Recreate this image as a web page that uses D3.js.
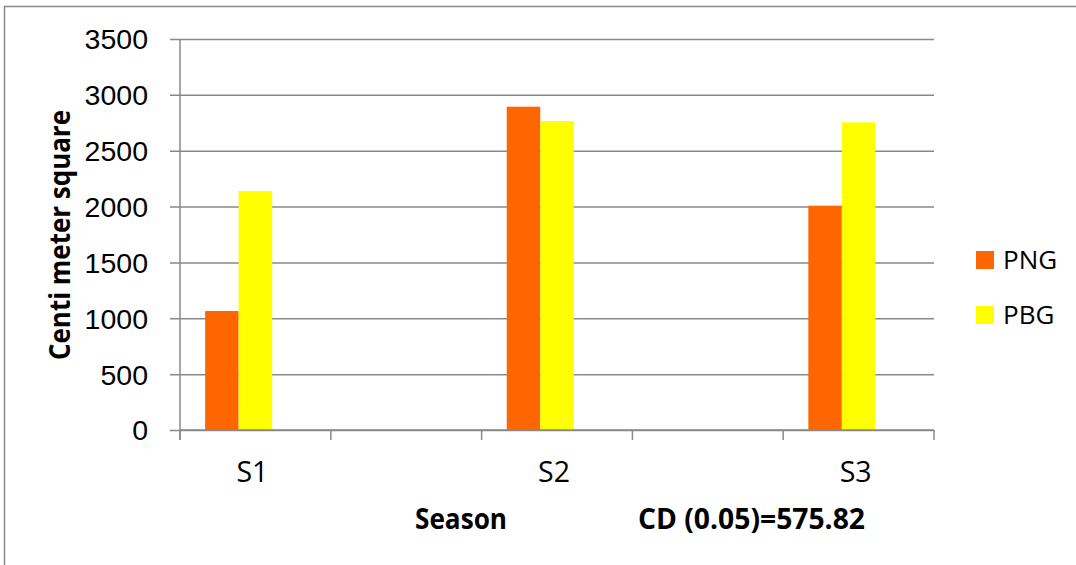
<!DOCTYPE html>
<html>
<head>
<meta charset="utf-8">
<script src="https://cdn.jsdelivr.net/npm/d3@7"></script>
<style>
  html, body { margin: 0; padding: 0; background: #fff; }
  svg { display: block; font-family: "Open Sans", "Noto Sans", sans-serif; }
</style>
</head>
<body>
<svg id="chart" width="1076" height="565"></svg>
<script>
// Category slots along the x axis (blank slots sit between the seasons)
const categories = ["S1", "", "S2", "", "S3"];
const seriesNames = ["PNG", "PBG"];
const pngValues = [1065, null, 2894, null, 2008];
const pbgValues = [2139, null, 2766, null, 2754];
const yTicks = [0, 500, 1000, 1500, 2000, 2500, 3000, 3500];
const colors = ["#FF6600", "#FFFF00"];

const svg = d3.select("#chart");
const W = 1076, H = 565;
const plot = { left: 180, right: 934, top: 39, bottom: 430 };
const grey = "#898989";

// Outer frame (top and left edges)
svg.append("path")
  .attr("d", `M4.5,${H} V6.5 H${W}`)
  .attr("fill", "none").attr("stroke", grey).attr("stroke-width", 1.5);

const x = d3.scaleBand()
  .domain(d3.range(categories.length))
  .range([plot.left, plot.right])
  .paddingInner(0).paddingOuter(0);

// Three bar slots per category; the last one stays empty
const xInner = d3.scaleBand()
  .domain(d3.range(3))
  .range([0, x.bandwidth()])
  .paddingInner(0).paddingOuter(0.75);

const y = d3.scaleLinear().domain([0, 3500]).range([plot.bottom, plot.top]);

// Horizontal gridlines with left tick stubs
const yAxis = d3.axisLeft(y)
  .tickValues(yTicks)
  .tickSize(-(plot.right - plot.left + 10))
  .tickFormat(d3.format("d"))
  .tickPadding(22);

const gy = svg.append("g")
  .attr("transform", `translate(${plot.left - 10},0)`)
  .call(yAxis);
gy.select(".domain").remove();
gy.selectAll(".tick line").attr("stroke", grey).attr("stroke-width", 1.5);
gy.selectAll(".tick text")
  .attr("fill", "#000")
  .style("font-size", "28.5px")
  .attr("dy", "0.35em")
  .attr("x", -(plot.left - 10 - 148));

// Vertical axis line
svg.append("line")
  .attr("x1", plot.left).attr("x2", plot.left)
  .attr("y1", plot.top).attr("y2", plot.bottom + 10)
  .attr("stroke", grey).attr("stroke-width", 1.5);

// Bars
const seriesData = [pngValues, pbgValues];
seriesData.forEach((vals, si) => {
  svg.append("g").selectAll("rect")
    .data(vals.map((v, i) => ({ i, v })).filter(d => d.v != null))
    .join("rect")
    .attr("x", d => x(d.i) + xInner(si))
    .attr("width", xInner.bandwidth())
    .attr("y", d => y(d.v))
    .attr("height", d => y(0) - y(d.v))
    .attr("fill", colors[si]);
});

// Horizontal axis line and category boundary ticks
const bounds = d3.range(categories.length + 1).map(i =>
  i < categories.length ? x(i) : x(categories.length - 1) + x.bandwidth());
svg.append("line")
  .attr("x1", plot.left).attr("x2", plot.right)
  .attr("y1", plot.bottom).attr("y2", plot.bottom)
  .attr("stroke", grey).attr("stroke-width", 1.5);
svg.append("g").selectAll("line")
  .data(bounds)
  .join("line")
  .attr("x1", d => d).attr("x2", d => d)
  .attr("y1", plot.bottom).attr("y2", plot.bottom + 10)
  .attr("stroke", grey).attr("stroke-width", 1.5);

// Category labels
svg.append("g").selectAll("text")
  .data(categories.map((c, i) => ({ c, i })).filter(d => d.c))
  .join("text")
  .attr("x", d => x(d.i) + x.bandwidth() / 2 - 3)
  .attr("y", 481.5)
  .attr("text-anchor", "middle")
  .style("font-size", "28.5px")
  .text(d => d.c);

// Axis titles
svg.append("text")
  .attr("x", 461).attr("y", 529)
  .attr("text-anchor", "middle")
  .attr("textLength", 92).attr("lengthAdjust", "spacingAndGlyphs")
  .style("font-size", "28.5px").style("font-weight", "bold")
  .text("Season");

svg.append("text")
  .attr("x", 751.5).attr("y", 529)
  .attr("text-anchor", "middle")
  .attr("textLength", 227).attr("lengthAdjust", "spacingAndGlyphs")
  .style("font-size", "28.5px").style("font-weight", "bold")
  .text("CD (0.05)=575.82");

svg.append("text")
  .attr("transform", "translate(70,235) rotate(-90)")
  .attr("text-anchor", "middle")
  .attr("textLength", 250).attr("lengthAdjust", "spacingAndGlyphs")
  .style("font-size", "29px").style("font-weight", "bold")
  .text("Centi meter square");

// Legend
const legend = svg.append("g").selectAll("g")
  .data(seriesNames)
  .join("g")
  .attr("transform", (d, i) => `translate(976,${251 + i * 55})`);
legend.append("rect")
  .attr("width", 18).attr("height", 18)
  .attr("fill", (d, i) => colors[i]);
legend.append("text")
  .attr("x", 27).attr("y", 18)
  .style("font-size", "26px")
  .text(d => d);
</script>
</body>
</html>
